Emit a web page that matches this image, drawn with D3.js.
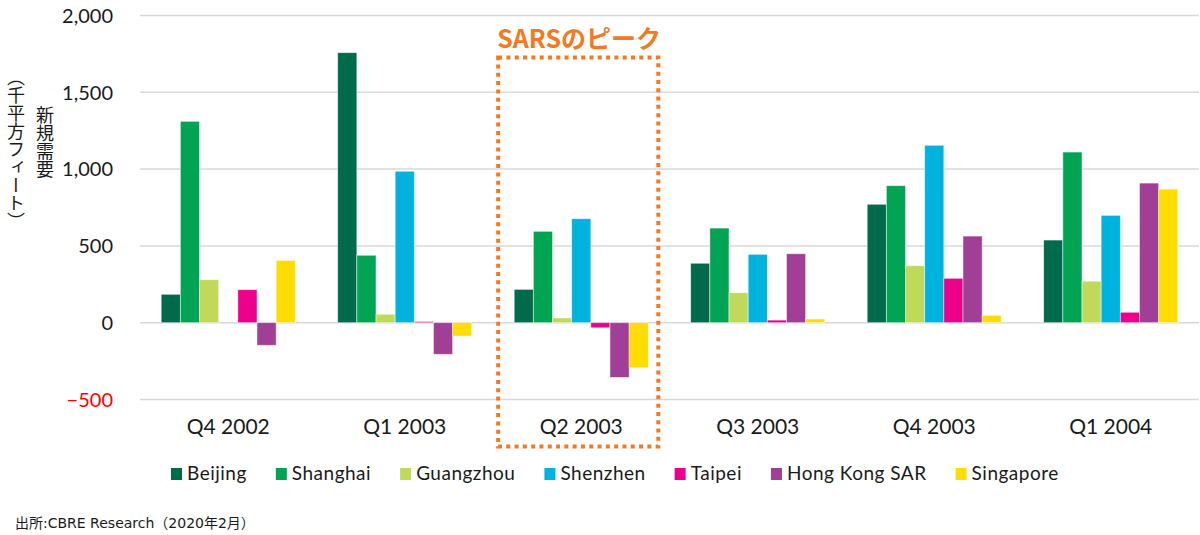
<!DOCTYPE html>
<html>
<head>
<meta charset="utf-8">
<script src="https://cdn.jsdelivr.net/npm/d3@7"></script>
<style>
  html, body { margin: 0; padding: 0; background: #fff; }
  svg text { font-family: Lato, "Noto Sans", sans-serif; }
  .jp { font-family: "Noto Sans CJK JP", sans-serif; }
</style>
</head>
<body>
<svg id="chart" width="1200" height="535"></svg>
<script>
// quarters and cities
const quarters = ["Q4 2002", "Q1 2003", "Q2 2003", "Q3 2003", "Q4 2003", "Q1 2004"];
const cities   = ["Beijing", "Shanghai", "Guangzhou", "Shenzhen", "Taipei", "Hong Kong SAR", "Singapore"];

// new demand, thousand sq ft (one value per quarter)
const beijing   = [185, 1758, 217, 387, 771, 538];
const shanghai  = [1311, 439, 595, 616, 892, 1111];
const guangzhou = [280, 55, 31, 195, 371, 270];
const shenzhen  = [0, 986, 677, 445, 1155, 699];
const taipei    = [215, 8, -33, 17, 289, 68];
const hongkong  = [-147, -206, -356, 449, 564, 909];
const singapore = [406, -87, -293, 24, 48, 870];

const yTicks = [-500, 0, 500, 1000, 1500, 2000];

const series = [beijing, shanghai, guangzhou, shenzhen, taipei, hongkong, singapore];
const colors = ["#006b4b", "#00a453", "#c0d95b", "#00b2de", "#ec008c", "#a03f95", "#ffdd00"];

const svg = d3.select("#chart");

const x0 = d3.scaleBand().domain(quarters).range([140, 1199])
  .paddingInner(0.24).paddingOuter(0.12);
const x1 = d3.scaleBand().domain(cities).range([0, x0.bandwidth()]);
const y  = d3.scaleLinear().domain([-500, 2000]).range([399.5, 15.5]);
const color = d3.scaleOrdinal(cities, colors);

// gridlines
svg.append("g")
  .selectAll("line")
  .data(yTicks)
  .join("line")
  .attr("x1", 140).attr("x2", 1199)
  .attr("y1", d => y(d)).attr("y2", d => y(d))
  .attr("stroke", "#d9d9d9")
  .attr("stroke-width", 1.5);

// y tick labels
svg.append("g")
  .selectAll("text")
  .data(yTicks)
  .join("text")
  .attr("x", 113)
  .attr("y", d => y(d))
  .attr("dy", "0.36em")
  .attr("text-anchor", "end")
  .attr("font-size", 20)
  .attr("fill", d => d < 0 ? "#ff0000" : "#1a1a1a")
  .text(d => d3.format(",")(d));

// bars
const rows = [];
quarters.forEach((q, i) => {
  cities.forEach((c, j) => rows.push({ q, c, v: series[j][i] }));
});

svg.append("g")
  .selectAll("rect")
  .data(rows.filter(d => d.v !== 0))
  .join("rect")
  .attr("x", d => x0(d.q) + x1(d.c))
  .attr("width", x1.bandwidth())
  .attr("y", d => y(Math.max(0, d.v)))
  .attr("height", d => Math.abs(y(d.v) - y(0)))
  .attr("fill", d => color(d.c))
  .attr("stroke", "#ffffff")
  .attr("stroke-opacity", 0.6)
  .attr("stroke-width", 0.8);

// x labels
svg.append("g")
  .selectAll("text")
  .data(quarters)
  .join("text")
  .attr("x", d => x0(d) + x0.bandwidth() / 2)
  .attr("y", 434)
  .attr("text-anchor", "middle")
  .attr("font-size", 21)
  .attr("fill", "#1a1a1a")
  .text(d => d);

// SARS peak annotation
const peak = "Q2 2003";
svg.append("rect")
  .attr("x", x0(peak) - 16)
  .attr("y", y(2000) + 42)
  .attr("width", x0.bandwidth() + 26)
  .attr("height", 389)
  .attr("fill", "none")
  .attr("stroke", "#f47920")
  .attr("stroke-width", 4)
  .attr("stroke-dasharray", "4 4.3");

svg.append("text")
  .attr("class", "jp")
  .attr("x", x0(peak) - 17)
  .attr("y", 48)
  .attr("font-size", 25)
  .attr("font-weight", "bold")
  .attr("fill", "#f47920")
  .text("SARSのピーク");

// y axis titles (vertical)
svg.append("text")
  .attr("class", "jp")
  .attr("x", 16)
  .attr("y", 68)
  .attr("font-size", 18)
  .attr("fill", "#1a1a1a")
  .style("writing-mode", "vertical-rl")
  .text("（千平方フィート）");

svg.append("text")
  .attr("class", "jp")
  .attr("x", 45)
  .attr("y", 106)
  .attr("font-size", 18)
  .attr("fill", "#1a1a1a")
  .style("writing-mode", "vertical-rl")
  .text("新規需要");

// legend
const legend = svg.append("g");
let lx = 171;
cities.forEach(c => {
  const g = legend.append("g").attr("transform", `translate(${lx},468)`);
  g.append("rect").attr("width", 11).attr("height", 12).attr("fill", color(c));
  const t = g.append("text")
    .attr("x", 16).attr("y", 12)
    .attr("font-size", 19)
    .attr("letter-spacing", 0.5)
    .attr("fill", "#1a1a1a")
    .text(c);
  lx += 16 + t.node().getComputedTextLength() + 29;
});

// source
svg.append("text")
  .attr("x", 15)
  .attr("y", 528)
  .attr("font-size", 14)
  .attr("fill", "#1a1a1a")
  .style("font-family", "'DejaVu Sans', 'Noto Sans CJK JP', sans-serif")
  .text("出所:CBRE Research（2020年2月）");
</script>
</body>
</html>
